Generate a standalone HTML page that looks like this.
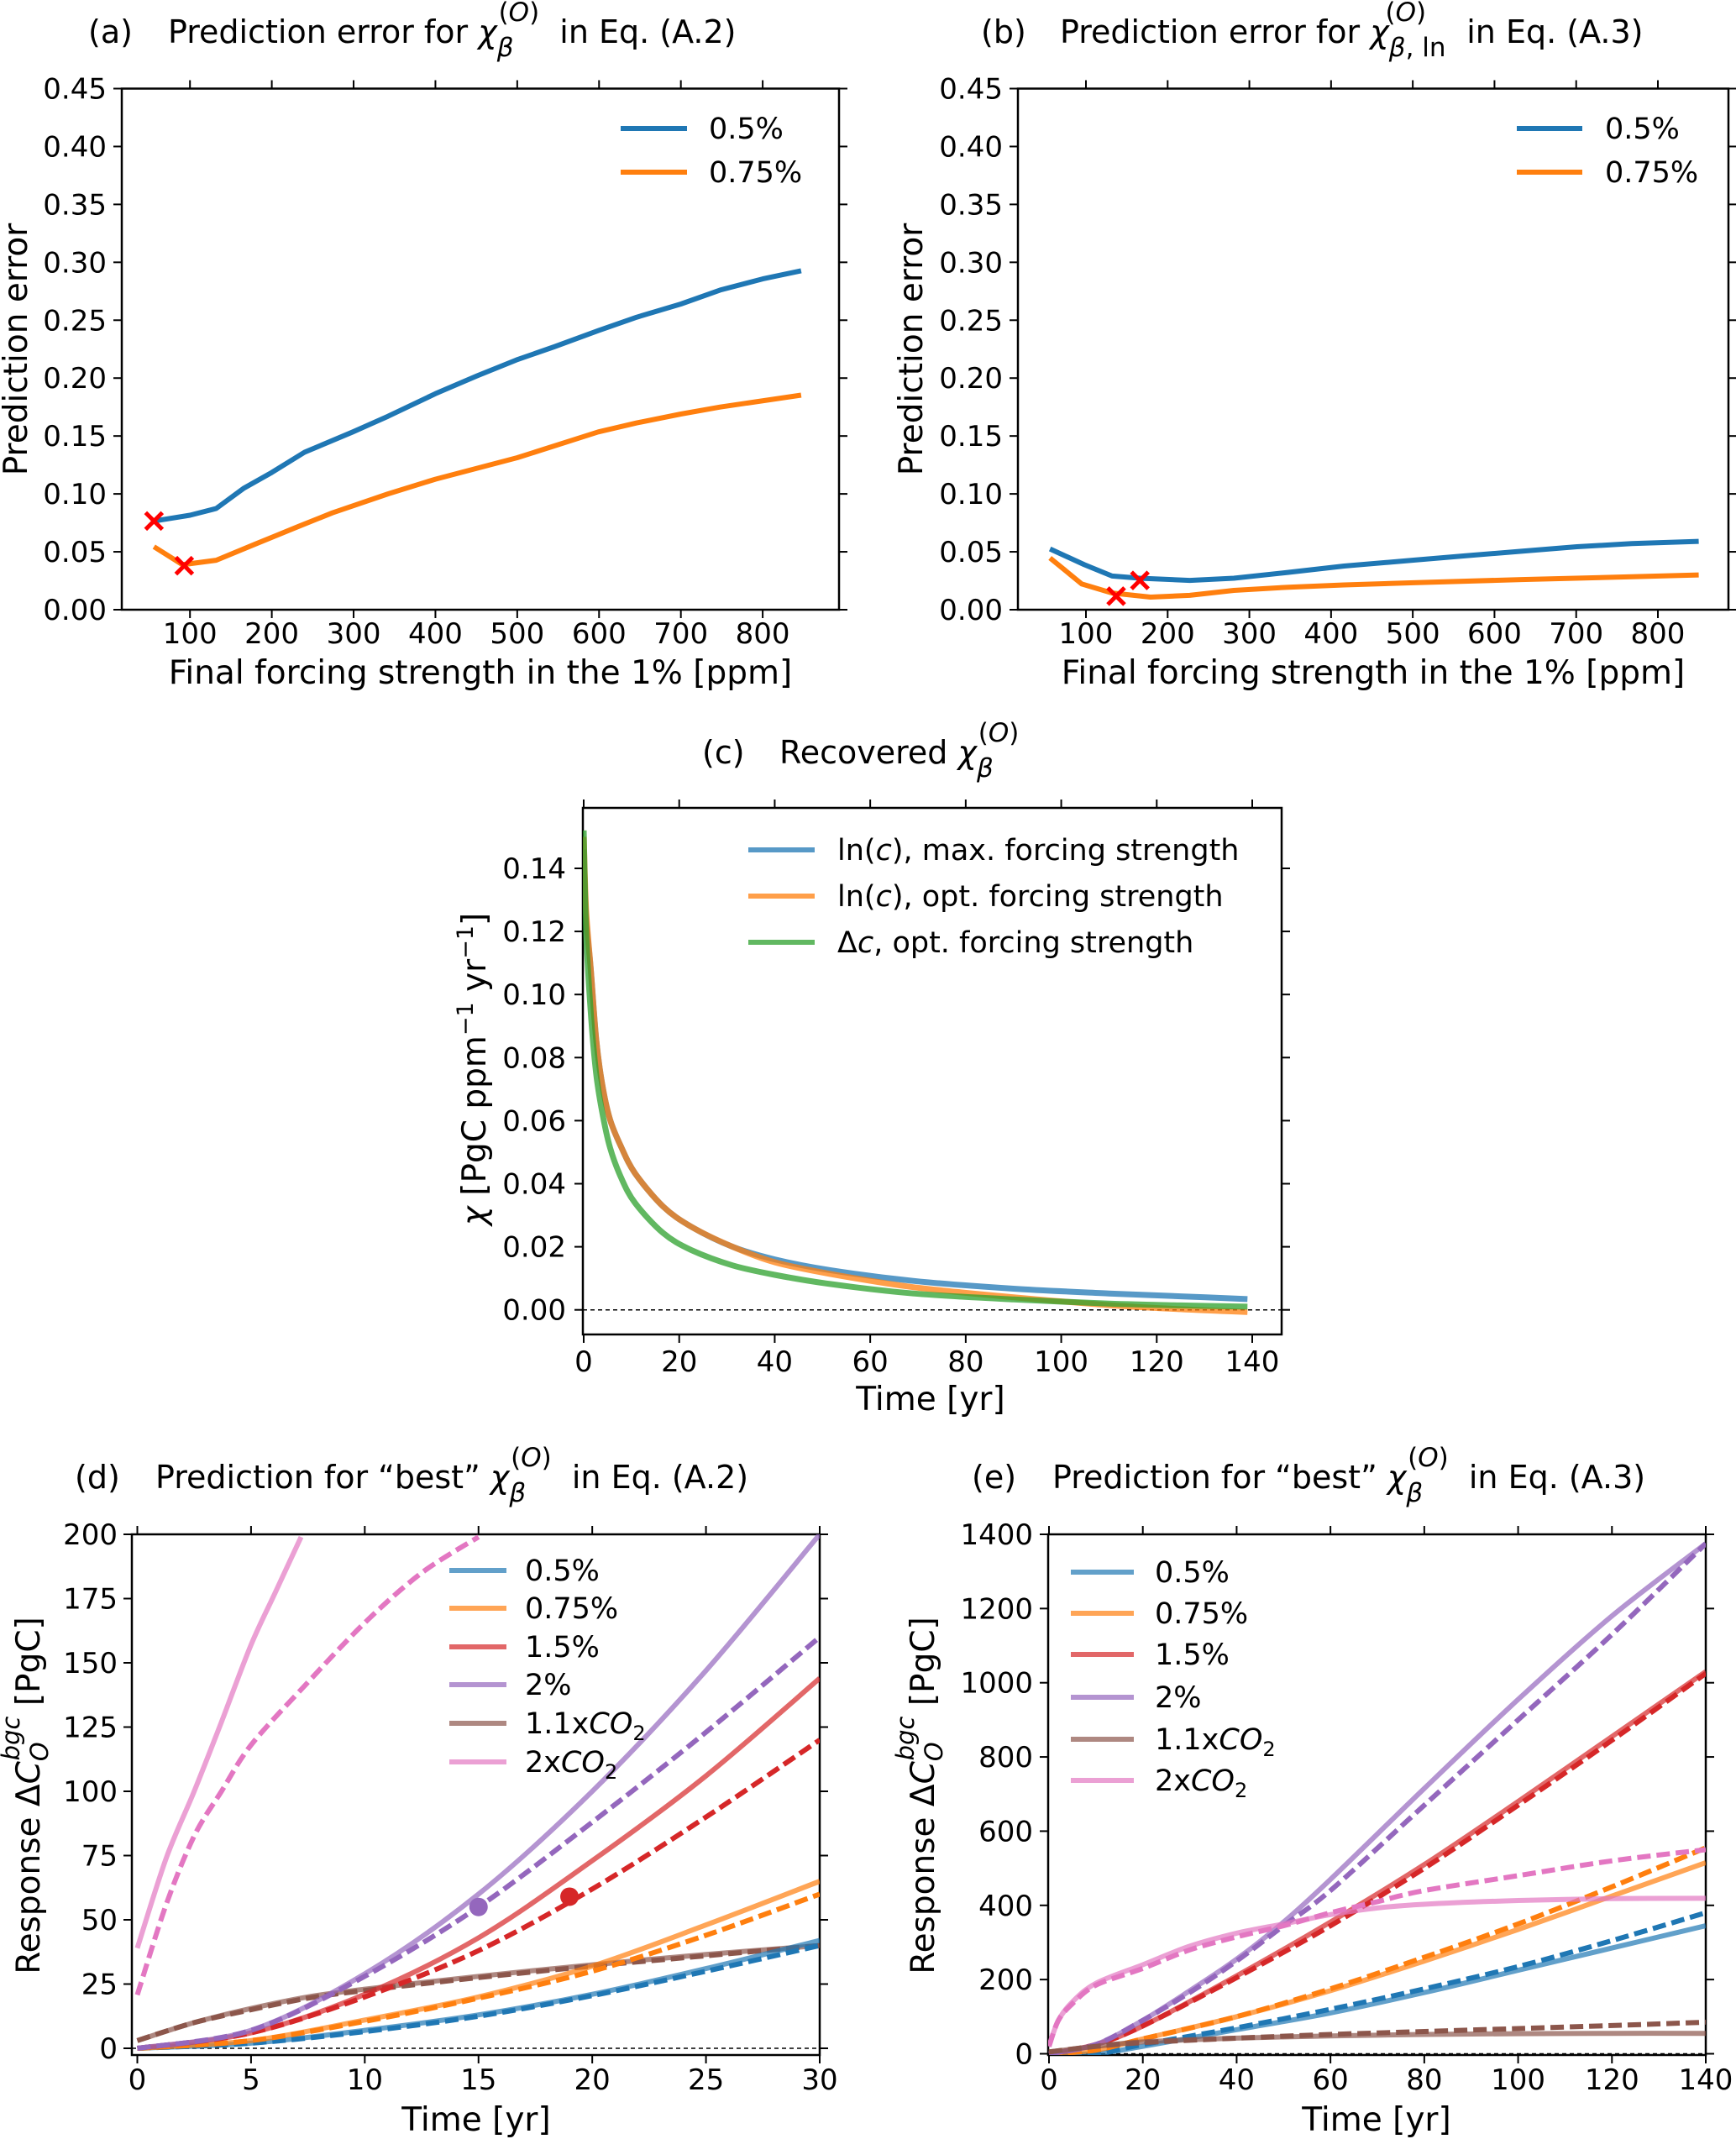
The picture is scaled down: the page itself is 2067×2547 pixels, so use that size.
<!DOCTYPE html>
<html><head><meta charset="utf-8"><style>
html,body{margin:0;padding:0;background:#fff}
svg{display:block;font-family:"DejaVu Sans","Liberation Sans",sans-serif}
</style></head><body>
<svg id="fig" width="2067" height="2547" viewBox="0 0 2067 2547" xmlns="http://www.w3.org/2000/svg">
<defs>
<clipPath id="clipA"><rect x="145" y="105.5" width="854" height="620.5"/></clipPath>
<clipPath id="clipB"><rect x="1212" y="105.5" width="846" height="620.5"/></clipPath>
<clipPath id="clipC"><rect x="694" y="962" width="832" height="627"/></clipPath>
<clipPath id="clipD"><rect x="157" y="1827" width="819" height="620"/></clipPath>
<clipPath id="clipE"><rect x="1248" y="1827" width="783" height="620"/></clipPath>
</defs>
<g id="layer"></g>
<!-- titles -->
<text x="105" y="51" font-size="38">(a)<tspan x="200">Prediction error for </tspan><tspan font-style="italic">χ</tspan><tspan font-size="31" font-style="italic" dy="16">β</tspan><tspan font-size="31" dx="-18" dy="-42">(<tspan font-style="italic">O</tspan>)</tspan><tspan dy="26" dx="12"> in Eq. (A.2)</tspan></text>
<text x="1168" y="51" font-size="38">(b)<tspan x="1262">Prediction error for </tspan><tspan font-style="italic">χ</tspan><tspan font-size="31" dy="16"><tspan font-style="italic">β</tspan>, ln</tspan><tspan font-size="31" dx="-72" dy="-42">(<tspan font-style="italic">O</tspan>)</tspan><tspan dy="26" dx="36"> in Eq. (A.3)</tspan></text>
<text x="836" y="909" font-size="38">(c)<tspan x="928">Recovered </tspan><tspan font-style="italic">χ</tspan><tspan font-size="31" font-style="italic" dy="16">β</tspan><tspan font-size="31" dx="-18" dy="-42">(<tspan font-style="italic">O</tspan>)</tspan></text>
<text x="89" y="1772" font-size="38">(d)<tspan x="185">Prediction for “best” </tspan><tspan font-style="italic">χ</tspan><tspan font-size="31" font-style="italic" dy="16">β</tspan><tspan font-size="31" dx="-18" dy="-42">(<tspan font-style="italic">O</tspan>)</tspan><tspan dy="26" dx="12"> in Eq. (A.2)</tspan></text>
<text x="1157" y="1772" font-size="38">(e)<tspan x="1253">Prediction for “best” </tspan><tspan font-style="italic">χ</tspan><tspan font-size="31" font-style="italic" dy="16">β</tspan><tspan font-size="31" dx="-18" dy="-42">(<tspan font-style="italic">O</tspan>)</tspan><tspan dy="26" dx="12"> in Eq. (A.3)</tspan></text>
<!-- axis labels -->
<text x="572" y="814" font-size="39" text-anchor="middle">Final forcing strength in the 1% [ppm]</text>
<text x="1635" y="814" font-size="39" text-anchor="middle">Final forcing strength in the 1% [ppm]</text>
<text transform="translate(32,416) rotate(-90)" font-size="39" text-anchor="middle">Prediction error</text>
<text transform="translate(1098,416) rotate(-90)" font-size="39" text-anchor="middle">Prediction error</text>
<text x="1108" y="1679" font-size="39" text-anchor="middle">Time [yr]</text>
<text transform="translate(578,1273) rotate(-90)" font-size="39" text-anchor="middle"><tspan font-style="italic">χ</tspan> [PgC ppm<tspan font-size="27" dy="-15">−1</tspan><tspan dy="15"> yr</tspan><tspan font-size="27" dy="-15">−1</tspan><tspan dy="15">]</tspan></text>
<text x="567" y="2537" font-size="39" text-anchor="middle">Time [yr]</text>
<text x="1639" y="2537" font-size="39" text-anchor="middle">Time [yr]</text>
<text transform="translate(47,2138) rotate(-90)" font-size="39" text-anchor="middle">Response Δ<tspan font-style="italic">C</tspan><tspan font-size="29" font-style="italic" dy="10">O</tspan><tspan font-size="29" font-style="italic" dx="-22" dy="-34">bgc</tspan><tspan dy="24"> [PgC]</tspan></text>
<text transform="translate(1112,2138) rotate(-90)" font-size="39" text-anchor="middle">Response Δ<tspan font-style="italic">C</tspan><tspan font-size="29" font-style="italic" dy="10">O</tspan><tspan font-size="29" font-style="italic" dx="-22" dy="-34">bgc</tspan><tspan dy="24"> [PgC]</tspan></text>
</svg>
<script>
// ---------- Panel (a) data ----------
const aBlueX = [56,100,132,166,200,240,299,342,400,451,499,545,599,646,700,748,800,847];
const aBlueY = [0.0766,0.0816,0.0874,0.105,0.1185,0.136,0.1535,0.167,0.1865,0.202,0.2157,0.227,0.241,0.2526,0.264,0.276,0.2857,0.2927];
const aOrangeX = [56,91,132,179,233,274,342,400,500,599,646,700,748,847];
const aOrangeY = [0.0544,0.0389,0.0427,0.0564,0.072,0.0836,0.100,0.1127,0.1313,0.1535,0.1613,0.169,0.175,0.1853];
const aMarkX = [56,93];
const aMarkY = [0.0766,0.038];
// ---------- Panel (b) data ----------
const bBlueX = [56,98,132,166,227,281,348,416,501,565,633,701,768,850];
const bBlueY = [0.0525,0.0389,0.0291,0.0272,0.0253,0.0272,0.0323,0.0377,0.0428,0.0466,0.0505,0.0544,0.0571,0.059];
const bOrangeX = [56,95,132,179,227,281,348,416,501,633,768,850];
const bOrangeY = [0.0447,0.0222,0.0144,0.0109,0.0124,0.0167,0.0194,0.0214,0.0233,0.026,0.0284,0.030];
const bMarkX = [137,166];
const bMarkY = [0.0117,0.0253];
const errTicks = [0,0.05,0.1,0.15,0.2,0.25,0.3,0.35,0.4,0.45];
const errTickLabels = ["0.00","0.05","0.10","0.15","0.20","0.25","0.30","0.35","0.40","0.45"];
const ppmTicks = [100,200,300,400,500,600,700,800];
// ---------- Panel (c) data ----------
const cT = [0,0.5,1.5,2.6,3.8,5.5,7.9,10.8,16.6,22.5,31.2,40,51.6,69,90,110,125,139];
const cBlue = [0.146,0.125,0.1077,0.086,0.0722,0.0604,0.0515,0.0432,0.0328,0.0264,0.020,0.016,0.0126,0.0092,0.0067,0.0052,0.0043,0.0034];
const cOrange = [0.150,0.127,0.1077,0.086,0.0722,0.0604,0.0515,0.0432,0.0328,0.0264,0.020,0.0151,0.0114,0.0072,0.004,0.0015,0.0002,-0.0007];
const cGreen = [0.152,0.12,0.094,0.075,0.0633,0.0515,0.0417,0.0338,0.0244,0.019,0.0141,0.0111,0.0082,0.0052,0.0033,0.002,0.0014,0.001];
const cYTicks = [0,0.02,0.04,0.06,0.08,0.10,0.12,0.14];
const cYLabels = ["0.00","0.02","0.04","0.06","0.08","0.10","0.12","0.14"];
const cXTicks = [0,20,40,60,80,100,120,140];
// ---------- Panel (d) data ----------
const dT = [0,5,10,15,20,25,30];
const d05s = [0,2,7,13,21,31,42];
const d05d = [0,2,6.5,12.5,20.5,30,40];
const d075s = [0,3,11,20,32,48,65];
const d075d = [0,3,10.5,19.5,30,44,60];
const d15s = [0,6,21,43,73,106,144];
const d15d = [0,6,20,38,62,90,120];
const d2s = [0,7,29,60,100,147,200];
const d2d = [0,7,28,55,88,123,160];
const d11T = [0,2.5,5,7.5,10,15,20,25,30];
const d11s = [3,10,15.5,20,23,28,32.5,36.5,40];
const d11d = [3,10,15,19.5,22.5,27.5,32,36,40];
const d2xsT = [0,1.27,2.5,3.7,5,6.1,7.2];
const d2xs = [39,74,100,127,157,178,199];
const d2xdT = [0,1.27,2.5,3.7,5,7.35,10,12.5,15];
const d2xd = [20.8,56,82.6,100,118,141,165.6,185,199];
const dDotT = [15,19];
const dDotV = [55,59];
const dYTicks = [0,25,50,75,100,125,150,175,200];
const dXTicks = [0,5,10,15,20,25,30];
// ---------- Panel (e) data ----------
const eT = [0,10,20,40,60,80,100,120,140];
const e05s = [0,0,20,65,110,165,225,285,345];
const e05d = [0,0,25,70,120,175,235,305,380];
const e075s = [0,10,40,100,170,250,335,425,515];
const e075d = [0,10,40,100,175,260,350,450,555];
const e15s = [0,25,75,210,355,510,680,855,1030];
const e15d = [0,25,75,205,345,500,670,845,1025];
const e2T = [0,10,20,30,40,50,60,80,100,120,140];
const e2s = [0,25,90,170,255,355,470,715,955,1180,1375];
const e2d = [0,25,90,165,250,345,440,670,900,1130,1375];
const e11s = [5,20,32,42,48,52,54,55,55];
const e11d = [5,20,30,42,52,60,68,76,85];
const e2xT = [0,2,5,10,20,30,40,50,60,70,80,100,120,140];
const e2xs = [20,90,140,190,240,290,325,350,375,393,403,413,418,419];
const e2xd = [20,90,135,185,230,280,315,345,380,410,440,480,520,550];
const eYTicks = [0,200,400,600,800,1000,1200,1400];
const eXTicks = [0,20,40,60,80,100,120,140];

const NS = "http://www.w3.org/2000/svg";
const layer = document.getElementById('layer');
const C = {blue:"#1f77b4",orange:"#ff7f0e",red:"#d62728",purple:"#9467bd",brown:"#8c564b",pink:"#e377c2",green:"#2ca02c"};

function mk(tag, attrs, parent){
  const e = document.createElementNS(NS, tag);
  for (const k in attrs) e.setAttribute(k, attrs[k]);
  (parent||layer).appendChild(e);
  return e;
}
function scale(d0,d1,r0,r1){ return v => r0 + (v-d0)/(d1-d0)*(r1-r0); }
function smoothPath(xs, ys, sx, sy){
  const P = xs.map((x,i)=>[sx(x), sy(ys[i])]);
  let d = "M"+P[0][0].toFixed(1)+","+P[0][1].toFixed(1);
  for (let i=0;i<P.length-1;i++){
    const p0=P[Math.max(0,i-1)], p1=P[i], p2=P[i+1], p3=P[Math.min(P.length-1,i+2)];
    const t=0.16;
    const c1=[p1[0]+(p2[0]-p0[0])*t, p1[1]+(p2[1]-p0[1])*t];
    const c2=[p2[0]-(p3[0]-p1[0])*t, p2[1]-(p3[1]-p1[1])*t];
    d += " C"+c1[0].toFixed(1)+","+c1[1].toFixed(1)+" "+c2[0].toFixed(1)+","+c2[1].toFixed(1)+" "+p2[0].toFixed(1)+","+p2[1].toFixed(1);
  }
  return d;
}
function linePath(xs, ys, sx, sy){
  return xs.map((x,i)=>(i?"L":"M")+sx(x).toFixed(1)+","+sy(ys[i]).toFixed(1)).join(" ");
}
function frame(box, name, xt, xl, sx, yt, yl, sy, xlabY, ylabX){
  const g = mk('g',{});
  
  
  const r = mk('rect',{x:box.l,y:box.t,width:box.r-box.l,height:box.b-box.t,fill:"none",stroke:"#000","stroke-width":2.5},g);
  
  
  xt.forEach((v,i)=>{
    const x = sx(v);
    mk('line',{x1:x,x2:x,y1:box.b,y2:box.b+10,stroke:"#000","stroke-width":2},g);
    mk('line',{x1:x,x2:x,y1:box.t,y2:box.t-10,stroke:"#000","stroke-width":2},g);
    const t = mk('text',{x:x,y:xlabY,"font-size":34,"text-anchor":"middle"},g);
    
    
    t.textContent = xl[i];
  });
  yt.forEach((v,i)=>{
    const y = sy(v);
    mk('line',{x1:box.l,x2:box.l-10,y1:y,y2:y,stroke:"#000","stroke-width":2},g);
    mk('line',{x1:box.r,x2:box.r+10,y1:y,y2:y,stroke:"#000","stroke-width":2},g);
    const t = mk('text',{x:ylabX,y:y+12,"font-size":34,"text-anchor":"end"},g);
    
    
    t.textContent = yl[i];
  });
}
function series(xs, ys, sx, sy, color, clip, name, opts){
  const p = mk('path',{d:(opts&&opts.linear)?linePath(xs,ys,sx,sy):smoothPath(xs,ys,sx,sy),fill:"none",stroke:color,"stroke-width":(opts&&opts.w)||6,"stroke-linejoin":"round","clip-path":"url(#"+clip+")"});
  if (opts && opts.dash) p.setAttribute('stroke-dasharray', opts.dash);
  if (opts && opts.op) p.setAttribute('stroke-opacity', opts.op);
  
  
  return p;
}
function legend(items, x0, x1, tx, ys, name){
  items.forEach((it,i)=>{
    const l = mk('line',{x1:x0,x2:x1,y1:ys[i],y2:ys[i],stroke:it[1],"stroke-width":6,"stroke-opacity":it[2]||1});
    
    
    const t = mk('text',{x:tx,y:ys[i]+12,"font-size":35});
    
    
    t.innerHTML = it[0];
  });
}
function xmark(x,y,name){
  const g = mk('g',{});
  
  
  mk('line',{x1:x-10,y1:y-10,x2:x+10,y2:y+10,stroke:"#ff0000","stroke-width":5},g);
  mk('line',{x1:x-10,y1:y+10,x2:x+10,y2:y-10,stroke:"#ff0000","stroke-width":5},g);
}

// Panel a
{
  const box={l:145,r:999,t:105.5,b:726};
  const sx=scale(100,800,226.2,908.1), sy=scale(0,0.45,726,105.5);
  frame(box,'panel-a',ppmTicks,ppmTicks.map(String),sx,errTicks,errTickLabels,sy,766,127);
  series(aBlueX,aBlueY,sx,sy,C.blue,'clipA','a-line-0-5pct',{linear:true});
  series(aOrangeX,aOrangeY,sx,sy,C.orange,'clipA','a-line-0-75pct',{linear:true});
  aMarkX.forEach((v,i)=>xmark(sx(v),sy(aMarkY[i]),'a-optimum-marker'));
  legend([["0.5%",C.blue],["0.75%",C.orange]],739,818,844,[153,205],'a');
}
// Panel b
{
  const box={l:1212,r:2058,t:105.5,b:726};
  const sx=scale(100,800,1293,1974), sy=scale(0,0.45,726,105.5);
  frame(box,'panel-b',ppmTicks,ppmTicks.map(String),sx,errTicks,errTickLabels,sy,766,1194);
  series(bBlueX,bBlueY,sx,sy,C.blue,'clipB','b-line-0-5pct',{linear:true});
  series(bOrangeX,bOrangeY,sx,sy,C.orange,'clipB','b-line-0-75pct',{linear:true});
  bMarkX.forEach((v,i)=>xmark(sx(v),sy(bMarkY[i]),'b-optimum-marker'));
  legend([["0.5%",C.blue],["0.75%",C.orange]],1806,1884,1911,[153,205],'b');
}
// Panel c
{
  const box={l:694,r:1526,t:962,b:1589};
  const sx=scale(0,140,695,1491), sy=scale(0,0.14,1559.7,1034);
  frame(box,'panel-c',cXTicks,cXTicks.map(String),sx,cYTicks,cYLabels,sy,1633,674);
  const z = mk('line',{x1:box.l,x2:box.r,y1:sy(0),y2:sy(0),stroke:"#000","stroke-width":1.5,"stroke-dasharray":"5 4"});
  
  
  series(cT,cBlue,sx,sy,C.blue,'clipC','c-line-ln-max',{w:7,op:0.75});
  series(cT,cOrange,sx,sy,C.orange,'clipC','c-line-ln-opt',{w:7,op:0.75});
  series(cT,cGreen,sx,sy,C.green,'clipC','c-line-delta-opt',{w:7,op:0.75});
  legend([["ln(<tspan font-style='italic'>c</tspan>), max. forcing strength",C.blue,0.75],["ln(<tspan font-style='italic'>c</tspan>), opt. forcing strength",C.orange,0.75],["Δ<tspan font-style='italic'>c</tspan>, opt. forcing strength",C.green,0.75]],891,970,997,[1012,1067,1122],'c');
}
// Panel d
{
  const box={l:157,r:976,t:1827,b:2447};
  const sx=scale(0,30,163.5,976), sy=scale(0,200,2439,1827);
  frame(box,'panel-d',dXTicks,dXTicks.map(String),sx,dYTicks,dYTicks.map(String),sy,2488,140);
  const z = mk('line',{x1:box.l,x2:box.r,y1:sy(0),y2:sy(0),stroke:"#000","stroke-width":1.5,"stroke-dasharray":"5 4"});
  
  
  const S={op:0.7}, D={dash:"16 7"};
  series(d11T,d11s,sx,sy,C.brown,'clipD','d-solid-1-1xco2',S);
  series(d11T,d11d,sx,sy,C.brown,'clipD','d-dashed-1-1xco2',D);
  series(dT,d05s,sx,sy,C.blue,'clipD','d-solid-0-5pct',S);
  series(dT,d05d,sx,sy,C.blue,'clipD','d-dashed-0-5pct',D);
  series(dT,d075s,sx,sy,C.orange,'clipD','d-solid-0-75pct',S);
  series(dT,d075d,sx,sy,C.orange,'clipD','d-dashed-0-75pct',D);
  series(dT,d15s,sx,sy,C.red,'clipD','d-solid-1-5pct',S);
  series(dT,d15d,sx,sy,C.red,'clipD','d-dashed-1-5pct',D);
  series(dT,d2s,sx,sy,C.purple,'clipD','d-solid-2pct',S);
  series(dT,d2d,sx,sy,C.purple,'clipD','d-dashed-2pct',D);
  series(d2xsT,d2xs,sx,sy,C.pink,'clipD','d-solid-2xco2',S);
  series(d2xdT,d2xd,sx,sy,C.pink,'clipD','d-dashed-2xco2',D);
  const dotCol=[C.purple,C.red];
  dDotT.forEach((t,i)=>{
    const c = mk('circle',{cx:sx(t),cy:sy(dDotV[i]),r:11,fill:dotCol[i]});
    
    
  });
  legend([["0.5%",C.blue,0.7],["0.75%",C.orange,0.7],["1.5%",C.red,0.7],["2%",C.purple,0.7],["1.1x<tspan font-style='italic'>CO</tspan><tspan font-size='24' dy='8'>2</tspan>",C.brown,0.7],["2x<tspan font-style='italic'>CO</tspan><tspan font-size='24' dy='8'>2</tspan>",C.pink,0.7]],535,603,625,[1870,1915,1961,2006,2052,2098],'d');
}
// Panel e
{
  const box={l:1248,r:2031,t:1827,b:2447};
  const sx=scale(0,140,1249,2031), sy=scale(0,1400,2445.5,1827);
  frame(box,'panel-e',eXTicks,eXTicks.map(String),sx,eYTicks,eYTicks.map(String),sy,2488,1230);
  const z = mk('line',{x1:box.l,x2:box.r,y1:sy(0),y2:sy(0),stroke:"#000","stroke-width":1.5,"stroke-dasharray":"5 4"});
  
  
  const S={op:0.7}, D={dash:"16 7"};
  series(eT,e05s,sx,sy,C.blue,'clipE','e-solid-0-5pct',S);
  series(eT,e05d,sx,sy,C.blue,'clipE','e-dashed-0-5pct',D);
  series(eT,e075s,sx,sy,C.orange,'clipE','e-solid-0-75pct',S);
  series(eT,e075d,sx,sy,C.orange,'clipE','e-dashed-0-75pct',D);
  series(eT,e15s,sx,sy,C.red,'clipE','e-solid-1-5pct',S);
  series(eT,e15d,sx,sy,C.red,'clipE','e-dashed-1-5pct',D);
  series(e2T,e2s,sx,sy,C.purple,'clipE','e-solid-2pct',S);
  series(e2T,e2d,sx,sy,C.purple,'clipE','e-dashed-2pct',D);
  series(eT,e11s,sx,sy,C.brown,'clipE','e-solid-1-1xco2',S);
  series(eT,e11d,sx,sy,C.brown,'clipE','e-dashed-1-1xco2',D);
  series(e2xT,e2xs,sx,sy,C.pink,'clipE','e-solid-2xco2',S);
  series(e2xT,e2xd,sx,sy,C.pink,'clipE','e-dashed-2xco2',D);
  legend([["0.5%",C.blue,0.7],["0.75%",C.orange,0.7],["1.5%",C.red,0.7],["2%",C.purple,0.7],["1.1x<tspan font-style='italic'>CO</tspan><tspan font-size='24' dy='8'>2</tspan>",C.brown,0.7],["2x<tspan font-style='italic'>CO</tspan><tspan font-size='24' dy='8'>2</tspan>",C.pink,0.7]],1275,1350,1375,[1872,1921,1970,2021,2071,2120],'e');
}
</script>
</body></html>
